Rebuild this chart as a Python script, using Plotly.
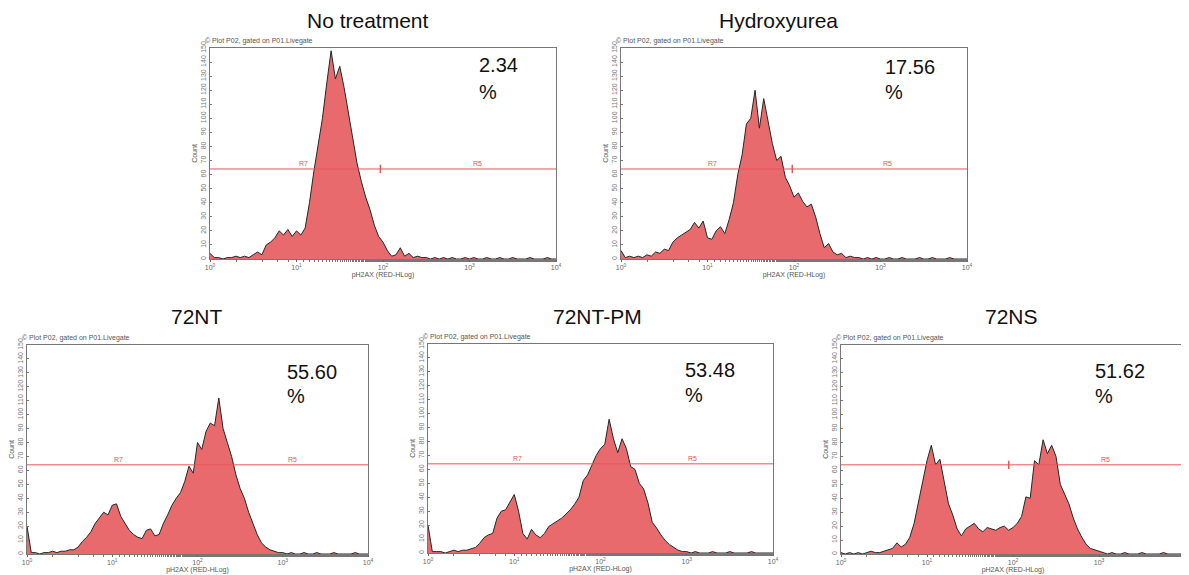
import numpy as np
import plotly.graph_objects as go

W, H = 1189, 575
PAGE_MARGIN = 8            # default body margin of the page the chart is drawn in
FIG_W, FIG_H = W - PAGE_MARGIN, H - PAGE_MARGIN

# ---------------- data ----------------
TITLES = ["No treatment", "Hydroxyurea", "72NT", "72NT-PM", "72NS"]
PERCENTS = ["2.34", "17.56", "55.60", "53.48", "51.62"]

# bin centres in log10(pH2AX) units, 0.05-decade bins from 10^0 to 10^4
LOG_BINS = np.round(np.arange(0, 4.0001, 0.05), 2)

COUNTS_NO_TREATMENT = [
    4, 1, 1, 0, 1, 1, 2, 1, 2, 1,
    3, 5, 3, 10, 12, 15, 20, 17, 21, 16,
    20, 17, 22, 40, 62, 80, 100, 125, 148, 128,
    137, 122, 104, 88, 68, 55, 44, 35, 24, 16,
    12, 6, 2, 3, 8, 2, 4, 1, 2, 1,
    1, 0, 1, 0, 1, 0, 1, 0, 0, 1,
    0, 1, 0, 0, 1, 0, 0, 1, 0, 0,
    1, 0, 0, 0, 1, 0, 0, 0, 1, 0,
    0]

COUNTS_HYDROXYUREA = [
    6, 1, 2, 1, 2, 1, 3, 2, 5, 4,
    7, 6, 12, 15, 17, 19, 21, 26, 22, 27,
    15, 14, 20, 23, 18, 28, 40, 60, 74, 96,
    100, 120, 93, 114, 97, 82, 70, 73, 58, 52,
    44, 47, 41, 37, 39, 30, 18, 8, 11, 5,
    3, 4, 1, 2, 1, 1, 0, 1, 0, 1,
    0, 0, 1, 0, 0, 1, 0, 0, 0, 1,
    0, 0, 1, 0, 0, 0, 1, 0, 0, 0,
    0]

COUNTS_72NT = [
    20, 1, 1, 0, 1, 1, 2, 1, 2, 2,
    3, 3, 5, 9, 12, 16, 22, 26, 30, 28,
    35, 36, 27, 22, 17, 14, 12, 11, 17, 18,
    13, 14, 22, 28, 35, 40, 44, 52, 63, 58,
    80, 75, 88, 94, 92, 112, 90, 80, 70, 57,
    47, 40, 30, 22, 14, 8, 5, 3, 2, 1,
    1, 0, 1, 0, 0, 1, 0, 0, 1, 0,
    0, 0, 1, 0, 0, 0, 0, 1, 0, 0,
    0]

COUNTS_72NT_PM = [
    20, 1, 1, 1, 0, 1, 2, 1, 2, 2,
    3, 4, 7, 11, 13, 14, 25, 30, 31, 36,
    42, 30, 14, 10, 17, 13, 11, 14, 19, 21,
    23, 25, 28, 31, 35, 40, 52, 56, 63, 70,
    75, 78, 96, 82, 72, 82, 75, 62, 60, 50,
    46, 36, 22, 18, 13, 9, 6, 4, 2, 1,
    1, 0, 1, 0, 0, 0, 1, 0, 0, 0,
    1, 0, 0, 0, 0, 1, 0, 0, 0, 0,
    0]

COUNTS_72NS = [
    1, 0, 1, 0, 1, 0, 1, 2, 1, 1,
    2, 3, 4, 8, 5, 7, 12, 22, 38, 52,
    67, 78, 64, 68, 52, 36, 28, 18, 13, 18,
    20, 22, 18, 16, 19, 18, 17, 19, 20, 17,
    19, 22, 27, 41, 40, 67, 64, 82, 72, 78,
    70, 50, 43, 36, 26, 18, 12, 7, 4, 3,
    2, 1, 0, 1, 0, 0, 1, 0, 0, 0,
    1, 0, 0, 0, 0, 1, 0, 0, 0, 0,
    0]

ALL_COUNTS = [COUNTS_NO_TREATMENT, COUNTS_HYDROXYUREA, COUNTS_72NT,
              COUNTS_72NT_PM, COUNTS_72NS]

GATE_LEVEL = 64                                  # count level of R7/R5 marker line
GATE_MARK_LOG = [1.97, 1.98, None, None, 1.95]   # R7|R5 boundary tick (log10)
R7_LOG = [1.08, 1.06, 1.07, 1.04, None]
R5_LOG = [3.09, 3.08, 3.12, 3.07, 3.07]

X_TICK_VALS = [1, 10, 100, 1000, 10000]
X_TICK_TEXT = ["10<sup>0</sup>", "10<sup>1</sup>", "10<sup>2</sup>",
               "10<sup>3</sup>", "10<sup>4</sup>"]
Y_RANGE = [0, 150]

# ---------------- layout (page pixels) ----------------
PANEL_BOX = [(210, 556, 48, 259), (621, 967, 48, 259),
             (27, 368, 345, 554), (428, 773, 344, 553), (841, 1185, 345, 554)]
TITLE_POS = [(368, 21), (778, 21), (197, 316), (597, 316), (1011, 316)]
PCT_POS = [(477, 65, 92), (883, 67, 92), (285, 372, 396),
           (683, 370, 395), (1093, 371, 396)]

FILL = "rgb(233,106,108)"
GATE_COLOR = "rgb(232,84,90)"
FONT = "Liberation Sans, Arial, sans-serif"


def px(x):
    return (x - PAGE_MARGIN) / FIG_W


def py(y):
    return 1 - (y - PAGE_MARGIN) / FIG_H


fig = go.Figure()
layout = dict(width=FIG_W, height=FIG_H, margin=dict(l=0, r=0, t=0, b=0),
              paper_bgcolor="white", plot_bgcolor="white", showlegend=False,
              font=dict(family=FONT))
annotations = []

for i in range(5):
    n = "" if i == 0 else str(i + 1)
    xa, ya = "x" + n, "y" + n
    l, r, t, b = PANEL_BOX[i]

    fig.add_trace(go.Scatter(
        x=10 ** LOG_BINS, y=ALL_COUNTS[i], mode="lines",
        line=dict(color="#262626", width=1), fill="tozeroy",
        fillcolor=FILL, xaxis=xa, yaxis=ya, hoverinfo="skip"))
    # gate line
    fig.add_trace(go.Scatter(
        x=[X_TICK_VALS[0], X_TICK_VALS[-1]], y=[GATE_LEVEL, GATE_LEVEL],
        mode="lines", line=dict(color=GATE_COLOR, width=1),
        xaxis=xa, yaxis=ya, hoverinfo="skip"))
    if GATE_MARK_LOG[i] is not None:
        fig.add_trace(go.Scatter(
            x=[10 ** GATE_MARK_LOG[i]] * 2, y=[GATE_LEVEL - 3, GATE_LEVEL + 3],
            mode="lines", line=dict(color=GATE_COLOR, width=1.5),
            xaxis=xa, yaxis=ya, hoverinfo="skip"))

    layout["xaxis" + n] = dict(
        domain=[px(l), px(r)], anchor=ya, type="log", range=[0, 4],
        tickvals=X_TICK_VALS, ticktext=X_TICK_TEXT,
        tickfont=dict(size=7, color="#666"), ticks="outside", ticklen=2,
        tickcolor="#666", minor=dict(ticks="outside", ticklen=1.5, tickcolor="#777"),
        showline=True, mirror=True, linecolor="#777", linewidth=1,
        showgrid=False, zeroline=False, automargin=False,
        title=dict(text="pH2AX (RED-HLog)", font=dict(size=7, color="#555"),
                   standoff=1))
    layout["yaxis" + n] = dict(
        domain=[py(b), py(t)], anchor=xa, range=Y_RANGE, dtick=10,
        tickangle=-90, tickfont=dict(size=7, color="#777"),
        ticks="inside", ticklen=2, tickcolor="#777",
        showline=True, mirror=True, linecolor="#777", linewidth=1,
        showgrid=False, zeroline=False, automargin=False,
        title=dict(text="Count", font=dict(size=7, color="#555"), standoff=1))

    # gate labels
    if R7_LOG[i] is not None:
        annotations.append(dict(xref=xa, yref=ya, x=R7_LOG[i], y=GATE_LEVEL,
                                text="R7", showarrow=False, yanchor="bottom",
                                font=dict(size=7, color=GATE_COLOR)))
    annotations.append(dict(xref=xa, yref=ya, x=R5_LOG[i], y=GATE_LEVEL,
                            text="R5", showarrow=False, yanchor="bottom",
                            font=dict(size=7, color=GATE_COLOR)))
    # plot header
    annotations.append(dict(xref="paper", yref="paper", x=px(l - 7), y=py(t - 1),
                            text="© Plot P02, gated on P01.Livegate",
                            showarrow=False, xanchor="left", yanchor="bottom",
                            font=dict(size=7, color="#555")))
    # titles
    tx, ty = TITLE_POS[i]
    annotations.append(dict(xref="paper", yref="paper", x=px(tx), y=py(ty),
                            text=TITLES[i], showarrow=False,
                            xanchor="center", yanchor="middle",
                            font=dict(size=21, color="#111")))
    # percentage
    ax_, ay1, ay2 = PCT_POS[i]
    annotations.append(dict(xref="paper", yref="paper", x=px(ax_), y=py(ay1),
                            text=PERCENTS[i], showarrow=False,
                            xanchor="left", yanchor="middle",
                            font=dict(size=20, color="#111")))
    annotations.append(dict(xref="paper", yref="paper", x=px(ax_), y=py(ay2),
                            text="%", showarrow=False,
                            xanchor="left", yanchor="middle",
                            font=dict(size=20, color="#111")))

layout["annotations"] = annotations
fig.update_layout(**layout)
fig.write_html("out.html")
